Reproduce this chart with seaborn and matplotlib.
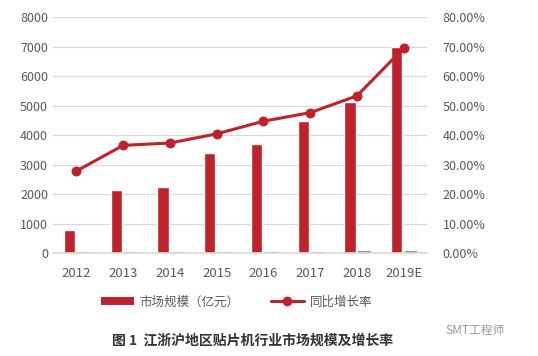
import pandas as pd
import numpy as np
import matplotlib.pyplot as plt
import seaborn as sns
from matplotlib.ticker import PercentFormatter
from matplotlib.patches import Patch
from matplotlib.lines import Line2D

years = ['2012', '2013', '2014', '2015', '2016', '2017', '2018', '2019E']
market_size = [780, 2140, 2240, 3390, 3700, 4480, 5120, 7000]
growth_pct = [27.8, 36.5, 37.3, 40.4, 44.7, 47.6, 53.3, 69.5]

RED = '#C0222B'
GREY_TXT = '#595959'

sns.set_theme(style='white')
plt.rcParams['font.family'] = ['Noto Sans CJK SC', 'DejaVu Sans']

# long table: the growth series also appears as (nearly flat) bars on the left axis
df = pd.DataFrame({
    'year': years * 2,
    'value': market_size + growth_pct,
    'series': ['市场规模（亿元）'] * len(years) + ['growth'] * len(years),
})

fig = plt.figure(figsize=(5.38, 3.56), dpi=100)
ax = fig.add_axes([0.0985, 0.2893, 0.6955, 0.6627])

sns.barplot(data=df, x='year', y='value', hue='series', ax=ax,
            palette=[RED, '#8C96A8'], width=0.6, gap=0.2,
            legend=False, saturation=1)
# the flat growth bars show up only as thin dashes on the baseline
for p in ax.containers[1]:
    p.set_edgecolor('#8C96A8')
    p.set_linewidth(0.8)
ax.set_ylim(0, 8000)
ax.set_yticks(range(0, 8001, 1000))
ax.grid(axis='y', color='#D9D9D9', linewidth=0.9)
ax.set_axisbelow(True)
ax.set_xlabel('')
ax.set_ylabel('')
for s in ['top', 'right', 'left']:
    ax.spines[s].set_visible(False)
ax.spines['bottom'].set_color('#D9D9D9')
ax.tick_params(axis='both', length=0, colors=GREY_TXT, labelsize=9)
ax.tick_params(axis='x', pad=10, labelsize=9.5)

ax2 = ax.twinx()
sns.pointplot(x=years, y=[g / 100 for g in growth_pct], ax=ax2, color=RED,
              markers='o', markersize=5.5, linewidth=2.2)
ax2.set_ylim(0, 0.8)
ax2.set_yticks(np.arange(0, 0.81, 0.1))
ax2.yaxis.set_major_formatter(PercentFormatter(1.0, decimals=2))
ax2.set_xlim(ax.get_xlim())
for s in ax2.spines.values():
    s.set_visible(False)
ax2.tick_params(axis='y', length=0, colors=GREY_TXT, labelsize=9, pad=11)
ax2.set_ylabel('')

handles = [
    Patch(facecolor=RED, edgecolor='none'),
    Line2D([0], [0], color=RED, marker='o', markersize=6, linewidth=2.2),
]
fig.legend(handles, ['市场规模（亿元）', '同比增长率'], loc='center',
           bbox_to_anchor=(0.44, 0.152), ncol=2, frameon=False,
           fontsize=9, labelcolor=GREY_TXT, handlelength=2.6,
           columnspacing=2.5, handletextpad=0.5)

fig.text(0.47, 0.043, '图 1  江浙沪地区贴片机行业市场规模及增长率',
         ha='center', va='center', fontsize=10, fontweight='bold',
         color='#333333')
fig.text(0.828, 0.072, 'SMT工程师', ha='left', va='center', fontsize=8.5,
         color='#9A9A9A')

fig.savefig('out.png', dpi=100)
